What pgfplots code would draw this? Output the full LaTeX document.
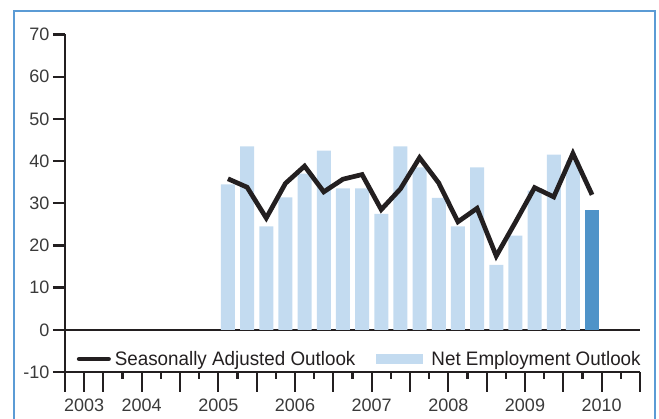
\documentclass[border=0pt]{standalone}
\usepackage{pgfplots}
\pgfplotsset{compat=1.18}
\usepackage{fontspec}
\setmainfont{Liberation Sans}
\newfontfamily\legfont[FakeStretch=0.965]{Liberation Sans}

\definecolor{barlight}{HTML}{C3DBF0}
\definecolor{bardark}{HTML}{4F93C8}
\definecolor{linec}{HTML}{231F20}
\definecolor{framec}{HTML}{5B9BD5}
\definecolor{tickc}{HTML}{3A3A3A}

\begin{document}
\begin{tikzpicture}
\useasboundingbox (-65pt,-47pt) rectangle (594pt,372pt);
\begin{axis}[
    scale only axis,
    width=575pt, height=337.5pt,
    xmin=0, xmax=30, ymin=-10, ymax=70,
    axis lines=left,
    axis line style={-, line width=2.3pt, linec},
    tick style={line width=2.3pt, linec},
    tick align=outside,
    major tick length=12pt,
    minor tick length=7pt,
    xtick={0,2,6,10,14,18,22,26,30},
    xticklabels={},
    xtick style={/pgfplots/major tick length=20pt},
    minor xtick={1,3,4,5,7,8,9,11,12,13,15,16,17,19,20,21,23,24,25,27,28,29},
    extra x ticks={1,4,8,12,16,20,24,28},
    extra x tick labels={2003,2004,2005,2006,2007,2008,2009,2010},
    extra x tick style={/pgfplots/major tick length=0pt, xticklabel style={yshift=-23pt}},
    ytick={-10,0,10,20,30,40,50,60,70},
    extra y ticks={0},
    extra y tick labels={},
    extra y tick style={grid=major, major grid style={line width=2.5pt, linec}, /pgfplots/major tick length=0pt},
    tick label style={font=\fontsize{18}{21}\selectfont, text=tickc},
    /pgf/number format/assume math mode=true,
    legend style={at={(axis cs:0.4,-6.9)}, anchor=west, draw=none, fill=none,
        font=\legfont\fontsize{19.5}{21}\selectfont, text=linec,
        /tikz/every even column/.append style={column sep=3pt}},
    legend columns=2,
]
\addlegendimage{legend image code/.code={\path[draw=none, fill=none] (-1pt,-6pt) rectangle (36pt,6pt);
  \draw[line width=4.7pt, line cap=round, linec] (2.35pt,0pt) -- (31.65pt,0pt);}}
\addlegendentry{Seasonally Adjusted Outlook}
\addlegendimage{legend image code/.code={\path[draw=none, fill=none] (-16pt,-6pt) rectangle (53pt,6pt);
  \fill[barlight] (0pt,-4.7pt) rectangle (46pt,4.7pt);}}
\addlegendentry{Net Employment Outlook}

\addplot[ybar, bar width=14pt, fill=barlight, draw=none, forget plot] coordinates {
(8.5,34.5) (9.5,43.5) (10.5,24.5) (11.5,31.4) (12.5,37.0) (13.5,42.5) (14.5,33.5)
(15.5,33.5) (16.5,27.5) (17.5,43.5) (18.5,38.5) (19.5,31.3) (20.5,24.5) (21.5,38.5)
(22.5,15.4) (23.5,22.3) (24.5,33.0) (25.5,41.5) (26.5,40.0)};
\addplot[ybar, bar width=14pt, fill=bardark, draw=none, forget plot] coordinates {(27.5,28.5)};

\addplot[linec, line width=4.7pt, line join=miter, forget plot] coordinates {
(8.5,35.8) (9.5,33.8) (10.5,26.5) (11.5,34.7) (12.5,38.8) (13.5,32.7) (14.5,35.7)
(15.5,36.8) (16.5,28.5) (17.5,33.4) (18.5,40.8) (19.5,34.8) (20.5,25.6) (21.5,28.8)
(22.5,17.5) (23.5,25.5) (24.5,33.7) (25.5,31.5) (26.5,41.8) (27.5,32.0)};
\end{axis}
\draw[framec, line width=2.6pt] (-51pt,-80pt) rectangle (590pt,361pt);
\end{tikzpicture}
\end{document}
